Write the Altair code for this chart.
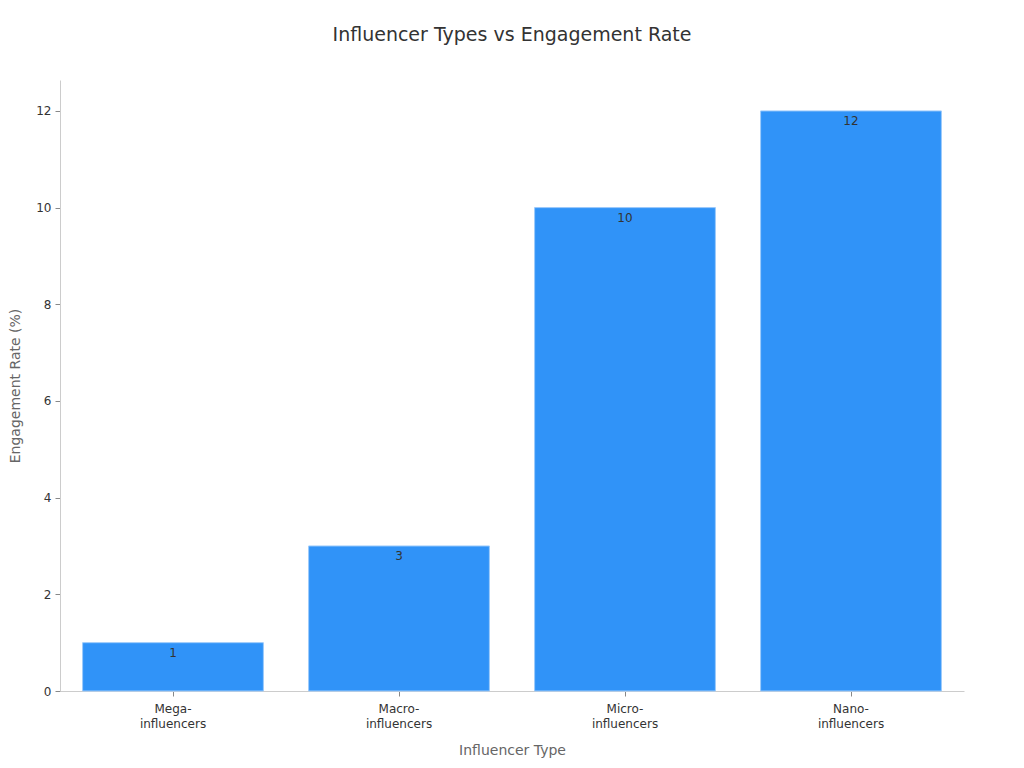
import altair as alt
import pandas as pd

categories = ["Mega-influencers", "Macro-influencers", "Micro-influencers", "Nano-influencers"]
engagement = [1, 3, 10, 12]

df = pd.DataFrame({"type": categories, "rate": engagement})

FONT = "DejaVu Sans"

base = alt.Chart(df).encode(
    x=alt.X(
        "type:N",
        sort=categories,
        title="Influencer Type",
        scale=alt.Scale(paddingInner=0.2, paddingOuter=0.1),
        axis=alt.Axis(
            labelAngle=0,
            labelExpr="[split(datum.label, '-')[0] + '-', split(datum.label, '-')[1]]",
            labelFontSize=12,
            labelColor="#333333",
            labelFont=FONT,
            labelLineHeight=15,
            labelPadding=7,
            titleFontSize=14,
            titleColor="#666666",
            titleFont=FONT,
            titleFontWeight="normal",
            titlePadding=14,
            domainColor="#cccccc",
            tickColor="#888888",
            tickSize=5,
        ),
    ),
    y=alt.Y(
        "rate:Q",
        title="Engagement Rate (%)",
        scale=alt.Scale(domain=[0, 12.64], nice=False),
        axis=alt.Axis(
            values=[0, 2, 4, 6, 8, 10, 12],
            grid=False,
            labelFontSize=12,
            labelColor="#333333",
            labelFont=FONT,
            labelPadding=4,
            titleFontSize=14,
            titleColor="#666666",
            titleFont=FONT,
            titleFontWeight="normal",
            titlePadding=13,
            domainColor="#cccccc",
            tickColor="#888888",
            tickSize=5,
        ),
    ),
)

bars = base.mark_bar(color="#3093F8", stroke="#9ccafb", strokeWidth=1)
labels = base.mark_text(baseline="top", dy=5, fontSize=12, font=FONT, color="#333333").encode(
    text="rate:Q"
)

chart = (
    (bars + labels)
    .properties(
        width=904,
        height=611,
        title=alt.TitleParams(
            "Influencer Types vs Engagement Rate",
            fontSize=19,
            font=FONT,
            fontWeight="normal",
            color="#333333",
            anchor="middle",
            offset=35,
        ),
        autosize=alt.AutoSizeParams(type="none"),
        padding={"left": 52, "top": 72, "right": 52, "bottom": 80},
    )
    .configure_view(stroke=None)
)

chart.save("out.html", embed_options={"renderer": "svg", "actions": False})
